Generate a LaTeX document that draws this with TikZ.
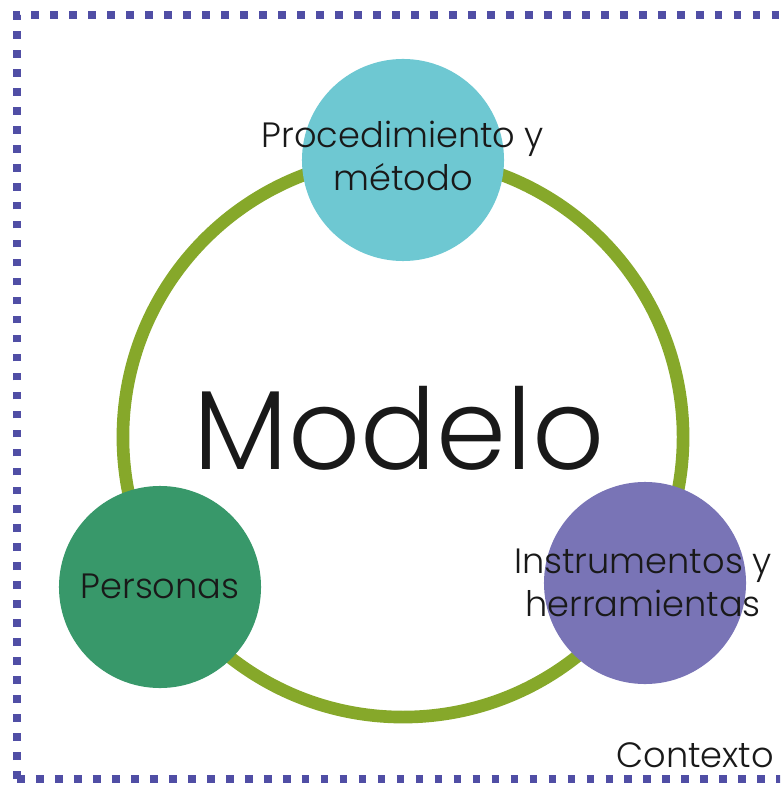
\documentclass[tikz,border=0pt]{standalone}
\usepackage{fontspec}
\setmainfont{Poppins}[UprightFont=* Light]
\usetikzlibrary{positioning}

\definecolor{framecol}{RGB}{80,78,165}
\definecolor{ringcol}{RGB}{134,168,42}
\definecolor{proccol}{RGB}{110,200,210}
\definecolor{perscol}{RGB}{56,152,106}
\definecolor{instcol}{RGB}{121,116,182}
\definecolor{txtcol}{RGB}{25,25,25}

\begin{document}
\begin{tikzpicture}[x=0.025cm,y=-0.025cm,
  bubble/.style={circle,inner sep=0pt,minimum size=5.05cm},
  lbl/.style={align=center,text=txtcol,font=\fontsize{25}{31}\selectfont},
  frame/.style={framecol,line width=5.8pt,dash pattern=on 5.5pt off 8pt}]
\useasboundingbox (0,0) rectangle (780,786);
\clip (0,0) rectangle (780,786);
\draw [frame] (17,779) -- (17,15) -- (800,15);
\draw [frame] (17,779) -- (800,779);
\draw [ringcol,line width=9pt] (403,437) circle [radius=7cm];
\node [bubble,fill=proccol] (proc) at (403,160) {};
\node [bubble,fill=perscol] (pers) at (160,587) {};
\node [bubble,fill=instcol] (inst) at (645,583) {};
\node [lbl] (procLbl) at (403,156) {Procedimiento y\\método};
\node [lbl] (persLbl) at (160,586) {Personas};
\node [lbl] (instLbl) at (643,583) {Instrumentos y\\herramientas};
\node [text=txtcol,font=\fontsize{80}{80}\selectfont] (modelo) at (399,428) {Modelo};
\node [lbl,anchor=base east] (ctx) at (779,767) {Contexto};
\end{tikzpicture}
\end{document}
